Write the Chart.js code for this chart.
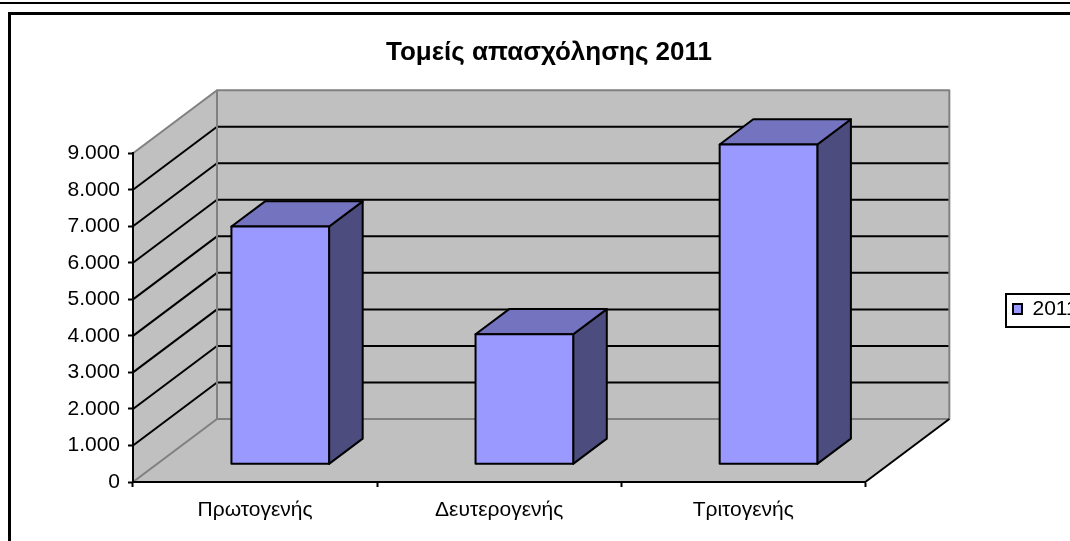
<!DOCTYPE html>
<html lang="el">
<head>
  <meta charset="UTF-8" />
  <title>Τομείς απασχόλησης 2011</title>
  <script src="https://cdn.jsdelivr.net/npm/chart.js"></script>
  <style>
    html, body {
      margin: 0;
      background: #fff;
      overflow: hidden;
      width: 1070px;
      height: 541px;
    }

    #line-top {
      position: absolute;
      left: 0;
      top: 2px;
      width: 1070px;
      height: 2px;
      background: #000;
    }

    #frame {
      position: absolute;
      left: 8px;
      top: 12px;
      width: 1062px;
      height: 529px;
      border-top: 3px solid #000;
      border-left: 3px solid #000;
      box-sizing: border-box;
    }

    canvas {
      position: absolute;
      left: 0;
      top: 0;
    }
  </style>
</head>
<body>

<div id="line-top"></div>
<div id="frame"></div>
<canvas id="chart" width="1098" height="541"></canvas>

<script>
const chartTitle = 'Τομείς απασχόλησης 2011';
const categories = ['Πρωτογενής', 'Δευτερογενής', 'Τριτογενής'];
const seriesName = '2011';
const seriesValues = [6510, 3560, 8755];
const yTickLabels = ['0', '1.000', '2.000', '3.000', '4.000', '5.000', '6.000', '7.000', '8.000', '9.000'];

const FONT = "'Liberation Sans', Arial, sans-serif";
const DEPTH_X = 84;
const DEPTH_Y = 63;

function polygon(ctx, pts, fill, stroke, width) {
  ctx.beginPath();
  pts.forEach((p, i) => i ? ctx.lineTo(p[0], p[1]) : ctx.moveTo(p[0], p[1]));
  ctx.closePath();
  ctx.fillStyle = fill;
  ctx.fill();
  if (stroke) {
    ctx.strokeStyle = stroke;
    ctx.lineWidth = width;
    ctx.stroke();
  }
}

function line(ctx, x1, y1, x2, y2, color, width) {
  ctx.beginPath();
  ctx.moveTo(x1, y1);
  ctx.lineTo(x2, y2);
  ctx.strokeStyle = color;
  ctx.lineWidth = width;
  ctx.stroke();
}

// walls, floor and grid of the 3d box, all taken from the scales
const box3d = {
  id: 'box3d',
  afterLayout(chart) {
    // title is centred on the whole picture, not on the padded part
    chart.titleBlock.left = 0;
    chart.titleBlock.right = 1098;
    // legend sits away from the plot, near the right edge
    const lg = chart.legend;
    const w = lg.right - lg.left;
    const h = lg.bottom - lg.top;
    lg.left = 1005;
    lg.right = lg.left + w;
    lg.top = 309 - h / 2;
    lg.bottom = lg.top + h;
  },
  beforeDraw(chart) {
    const ctx = chart.ctx;
    const x = chart.scales.x, y = chart.scales.y;
    const l = x.left, r = x.right;
    const y0 = y.getPixelForValue(0), yTop = y.getPixelForValue(9000);
    const dx = DEPTH_X, dy = DEPTH_Y;
    ctx.save();
    ctx.lineJoin = 'round';

    polygon(ctx, [[l, y0], [l + dx, y0 - dy], [r + dx, y0 - dy], [r, y0]], '#c0c0c0');
    polygon(ctx, [[l, y0], [l + dx, y0 - dy], [l + dx, yTop - dy], [l, yTop]], '#c0c0c0');
    polygon(ctx, [[l + dx, y0 - dy], [r + dx, y0 - dy], [r + dx, yTop - dy], [l + dx, yTop - dy]], '#c0c0c0');

    y.ticks.forEach(t => {
      if (t.value === 0 || t.value === 9000) return;
      const py = y.getPixelForValue(t.value);
      line(ctx, l, py, l + dx, py - dy, '#000', 2);
      line(ctx, l + dx, py - dy, r + dx, py - dy, '#000', 2);
    });

    line(ctx, l, yTop, l + dx, yTop - dy, '#808080', 2);
    line(ctx, l, y0, l + dx, y0 - dy, '#808080', 2);
    polygon(ctx, [[l + dx, y0 - dy], [r + dx, y0 - dy], [r + dx, yTop - dy], [l + dx, yTop - dy]], 'rgba(0,0,0,0)', '#808080', 2);
    line(ctx, r, y0, r + dx, y0 - dy, '#000', 2);
    ctx.restore();
  },
  beforeDatasetsDraw(chart) {
    const ctx = chart.ctx;
    // bars stand in the middle of the floor depth
    ctx.save();
    ctx.translate(DEPTH_X * 0.3, -DEPTH_Y * 0.28);
    const bx = DEPTH_X * 0.4, by = DEPTH_Y * 0.4;
    ctx.lineJoin = 'round';
    chart.getDatasetMeta(0).data.forEach(bar => {
      const left = bar.x - bar.width / 2, right = bar.x + bar.width / 2;
      polygon(ctx, [[right, bar.y], [right + bx, bar.y - by], [right + bx, bar.base - by], [right, bar.base]], '#4c4c7f', '#000', 2);
      polygon(ctx, [[left, bar.y], [left + bx, bar.y - by], [right + bx, bar.y - by], [right, bar.y]], '#7373bf', '#000', 2);
    });
  },
  afterDatasetsDraw(chart) {
    const ctx = chart.ctx;
    // outline of the front faces, same weight as the other faces
    ctx.strokeStyle = '#000';
    ctx.lineWidth = 2;
    chart.getDatasetMeta(0).data.forEach(bar => {
      ctx.strokeRect(bar.x - bar.width / 2, bar.y, bar.width, bar.base - bar.y);
    });
    ctx.restore();
  },
  afterDraw(chart) {
    const ctx = chart.ctx;
    ctx.save();
    ctx.strokeStyle = '#000';
    ctx.lineWidth = 2;
    ctx.strokeRect(1006, 294, 90, 33);
    ctx.restore();
  }
};

new Chart(document.getElementById('chart'), {
  type: 'bar',
  plugins: [box3d],
  data: {
    labels: categories,
    datasets: [{
      label: seriesName,
      data: seriesValues,
      backgroundColor: '#9999ff',
      borderColor: '#000',
      borderWidth: 0,
      barPercentage: 0.4,
      categoryPercentage: 1,
      clip: false
    }]
  },
  options: {
    responsive: false,
    animation: false,
    layout: { padding: { right: 150 } },
    plugins: {
      title: {
        display: true,
        text: chartTitle,
        color: '#000',
        font: { family: FONT, size: 26, weight: 'bold' },
        padding: { top: 37, bottom: 85 }
      },
      legend: {
        position: 'right',
        labels: {
          color: '#000',
          font: { family: FONT, size: 21 },
          boxWidth: 9,
          boxHeight: 10,
          padding: 8,
          generateLabels(chart) {
            const items = Chart.defaults.plugins.legend.labels.generateLabels(chart);
            items.forEach(item => {
              item.lineWidth = 2;
              item.strokeStyle = '#000';
            });
            return items;
          }
        }
      },
      tooltip: { enabled: false }
    },
    scales: {
      x: {
        afterFit(s) { s.height = 59; },
        border: { color: '#000', width: 2 },
        grid: { drawOnChartArea: false, color: '#000', tickColor: '#000', tickWidth: 2, tickLength: 5 },
        ticks: {
          color: '#000',
          font: { family: FONT, size: 21 },
          padding: 11,
          maxRotation: 0
        }
      },
      y: {
        min: 0,
        max: 9000,
        afterFit(s) { s.width = 133; },
        border: { color: '#000', width: 2 },
        grid: { drawOnChartArea: false, color: '#000', tickColor: '#000', tickWidth: 2, tickLength: 5 },
        ticks: {
          stepSize: 1000,
          color: '#000',
          font: { family: FONT, size: 21 },
          padding: 8,
          callback: value => yTickLabels[value / 1000]
        }
      }
    }
  }
});
</script>

</body>
</html>
